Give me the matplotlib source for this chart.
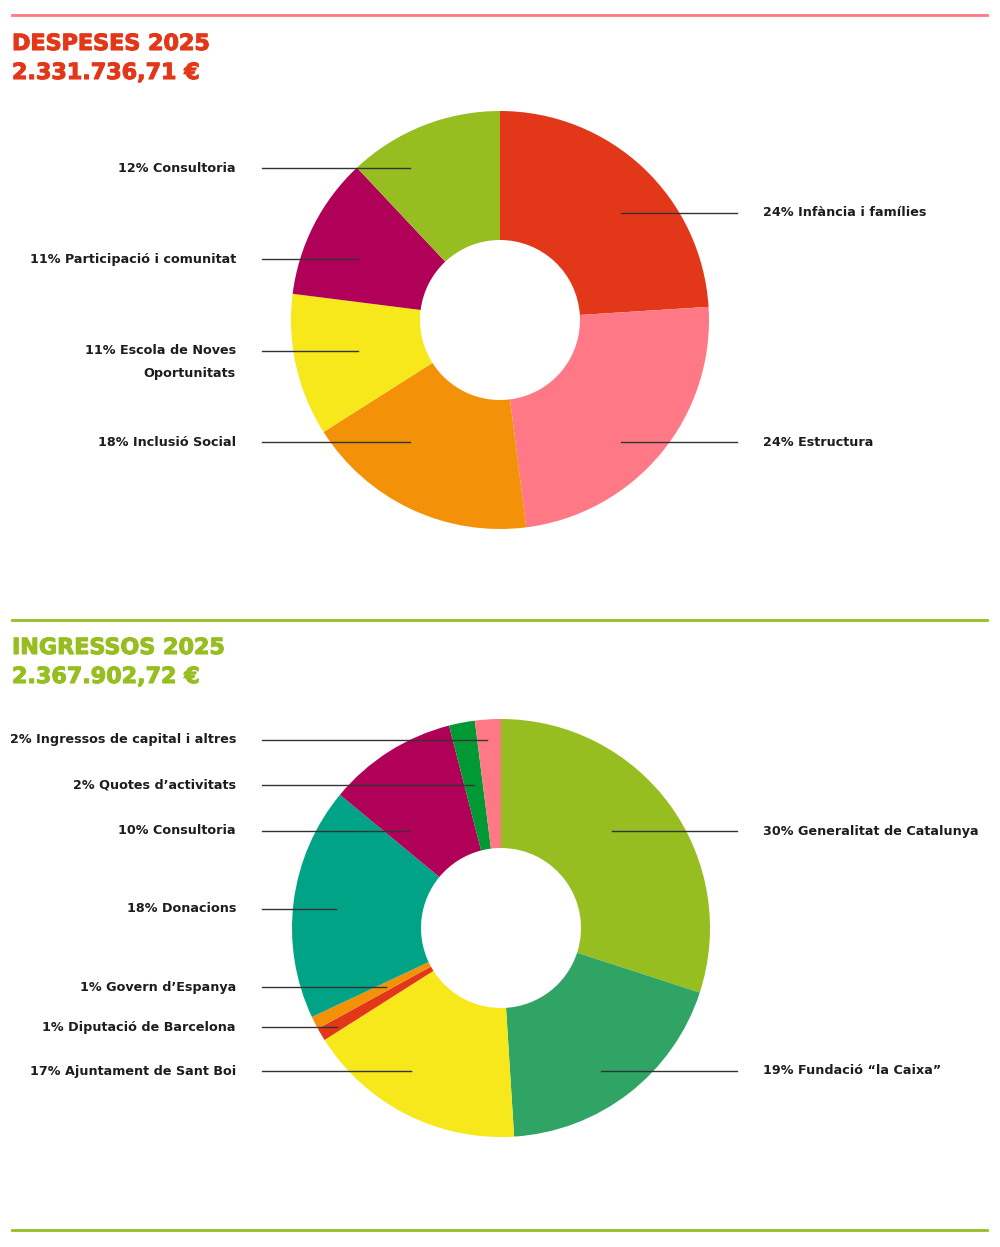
import matplotlib
matplotlib.use('Agg')
import matplotlib.pyplot as plt
import matplotlib.patheffects as pe

# despeses
desp_labels = ['24% Infància i famílies', '24% Estructura', '18% Inclusió Social',
               '11% Escola de Noves\nOportunitats', '11% Participació i comunitat', '12% Consultoria']
desp_values = [24, 24, 18, 11, 11, 12]
desp_colors = ['#E3371A', '#FF7886', '#F39208', '#F6E81A', '#B10058', '#97BE20']

# ingressos
ingr_labels = ['30% Generalitat de Catalunya', '19% Fundació “la Caixa”', '17% Ajuntament de Sant Boi',
               '1% Diputació de Barcelona', '1% Govern d’Espanya', '18% Donacions',
               '10% Consultoria', '2% Quotes d’activitats', '2% Ingressos de capital i altres']
ingr_values = [30, 19, 17, 1, 1, 18, 10, 2, 2]
ingr_colors = ['#97BE20', '#30A465', '#F6E81A', '#E3371A', '#F39208', '#00A386',
               '#B10058', '#009933', '#FF7886']

W, H = 1000, 1247
FONT = 'DejaVu Sans'
LBL = 9.2

fig = plt.figure(figsize=(W / 100, H / 100), dpi=100)
ax = fig.add_axes([0, 0, 1, 1])


def Y(y):
    return H - y


def donut(cx, cy, values, colors):
    ax.pie(values, colors=colors, startangle=90, counterclock=False,
           center=(cx, Y(cy)), radius=209,
           wedgeprops=dict(width=129, linewidth=0))


def label(text, y, x0, x1, side):
    ax.plot([x0, x1], [Y(y), Y(y)], color='#333333', lw=1)
    if side == 'left':
        ax.text(236, Y(y), text, ha='right', va='center', fontsize=LBL,
                fontweight='bold', family=FONT, color='#1d1d1b')
    else:
        ax.text(763, Y(y), text, ha='left', va='center', fontsize=LBL,
                fontweight='bold', family=FONT, color='#1d1d1b')


donut(500, 320, desp_values, desp_colors)
donut(501, 928, ingr_values, ingr_colors)

# leader lines despeses
label(desp_labels[0], 213, 621, 737, 'right')
label(desp_labels[1], 442, 621, 737, 'right')
label(desp_labels[2], 442, 262, 410, 'left')
ax.plot([262, 358], [Y(351), Y(351)], color='#333333', lw=1)
ax.text(236, Y(362), desp_labels[3], ha='right', va='center', fontsize=LBL,
        fontweight='bold', family=FONT, color='#1d1d1b', linespacing=1.9)
label(desp_labels[4], 259, 262, 358, 'left')
label(desp_labels[5], 168, 262, 410, 'left')

# leader lines ingressos
label(ingr_labels[0], 831, 612, 737, 'right')
label(ingr_labels[1], 1071, 601, 737, 'right')
label(ingr_labels[2], 1071, 262, 411, 'left')
label(ingr_labels[3], 1027, 262, 337, 'left')
label(ingr_labels[4], 987, 262, 386, 'left')
label(ingr_labels[5], 909, 262, 336, 'left')
label(ingr_labels[6], 831, 262, 409, 'left')
label(ingr_labels[7], 785, 262, 474, 'left')
label(ingr_labels[8], 740, 262, 487, 'left')

# separators
ax.plot([12, 987], [Y(15), Y(15)], color='#FF7886', lw=2)
ax.plot([12, 987], [Y(620), Y(620)], color='#97BE20', lw=2)
ax.plot([12, 987], [Y(1230), Y(1230)], color='#97BE20', lw=2)

# titles
titles = [('DESPESES 2025', 44, '#E3371A'), ('2.331.736,71 €', 73, '#E3371A'),
          ('INGRESSOS 2025', 648, '#97BE20'), ('2.367.902,72 €', 677, '#97BE20')]
for txt, y, c in titles:
    ax.text(12, Y(y), txt, ha='left', va='center', fontsize=16,
            fontweight='bold', family=FONT, color=c,
            path_effects=[pe.withStroke(linewidth=0.8, foreground=c)])

ax.set_xlim(0, W)
ax.set_ylim(0, H)
ax.set_aspect('equal')
ax.axis('off')

fig.savefig('out.png', dpi=100)
